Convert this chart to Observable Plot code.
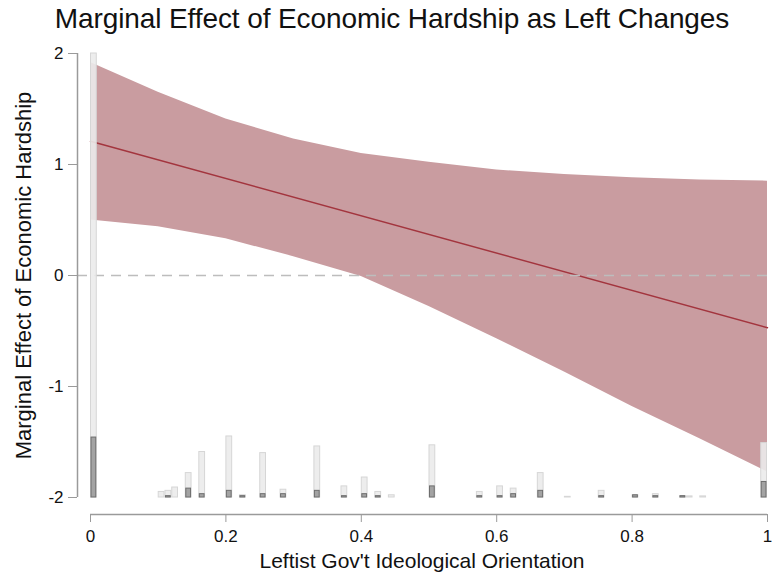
<!DOCTYPE html>
<html><head><meta charset="utf-8">
<script src="https://cdn.jsdelivr.net/npm/d3@7"></script>
<script src="https://cdn.jsdelivr.net/npm/@observablehq/plot@0.6"></script>
<style>
body{margin:0;background:#fff;font-family:"Liberation Sans",Arial,sans-serif;}
#title{height:38px;line-height:37px;font-size:28px;text-align:center;padding-left:12px;color:#111;white-space:nowrap;letter-spacing:-0.1px;}
#chart svg{font-family:"Liberation Sans",Arial,sans-serif;}
</style></head><body>
<div id="title">Marginal Effect of Economic Hardship as Left Changes</div>
<div id="chart"></div>
<script>
// Confidence band grid (leftist orientation) and bounds
const gridX = [0, 0.1, 0.2, 0.3, 0.4, 0.5, 0.6, 0.7, 0.8, 0.9, 1.0];
const upperCI = [1.92, 1.65, 1.41, 1.23, 1.10, 1.02, 0.95, 0.91, 0.88, 0.86, 0.85];
const lowerCI = [0.50, 0.44, 0.33, 0.17, -0.01, -0.28, -0.57, -0.87, -1.18, -1.47, -1.77];
// Marginal effect line
const effectX = [0, 1];
const effectY = [1.21, -0.47];
// Histogram (bin left edges, bar heights in y-units above the -2 baseline)
const histBins = [0, 0.10, 0.11, 0.12, 0.14, 0.16, 0.20, 0.22, 0.25, 0.28, 0.33, 0.37, 0.40, 0.42, 0.44, 0.50, 0.57, 0.60, 0.62, 0.66, 0.70, 0.75, 0.80, 0.83, 0.87, 0.88, 0.90, 0.99];
const lightHeights = [4.0, 0.05, 0.06, 0.09, 0.22, 0.41, 0.55, 0.02, 0.40, 0.07, 0.46, 0.10, 0.18, 0.05, 0.02, 0.47, 0.05, 0.10, 0.08, 0.22, 0.006, 0.06, 0.02, 0.03, 0.01, 0.01, 0.01, 0.49];
const darkHeights  = [0.54, 0, 0.012, 0, 0.08, 0.03, 0.06, 0.012, 0.03, 0.03, 0.06, 0.012, 0.03, 0.012, 0, 0.10, 0.012, 0.012, 0.03, 0.06, 0, 0.012, 0.02, 0.012, 0.012, 0, 0, 0.14];
const binWidth = 0.01;
const baseline = -2;
const xTicks = [0, 0.2, 0.4, 0.6, 0.8, 1];
const yTicks = [-2, -1, 0, 1, 2];
const xLabel = "Leftist Gov't Ideological Orientation";
const yLabel = "Marginal Effect of Economic Hardship";

const band = gridX.map((x, i) => ({x, lo: lowerCI[i], hi: upperCI[i]}));
const effect = effectX.map((x, i) => ({x, y: effectY[i]}));
const hist = histBins.map((x, i) => ({x, light: lightHeights[i], dark: darkHeights[i]}));

const chart = Plot.plot({
  width: 772,
  height: 543,
  marginTop: 15,
  marginBottom: 84,
  marginLeft: 90,
  marginRight: 5,
  style: {fontFamily: "Liberation Sans, Arial, sans-serif", background: "#fff", overflow: "visible"},
  x: {domain: [0, 1]},
  y: {domain: [-2, 2]},
  marks: [
    Plot.areaY(band, {x: "x", y1: "lo", y2: "hi", fill: "#c99ca0"}),
    Plot.line(effect, {x: "x", y: "y", stroke: "#a3353e", strokeWidth: 1.5}),
    Plot.ruleY([0], {stroke: "#bdbdbd", strokeWidth: 1.5, strokeDasharray: "10,7", insetLeft: -13, insetRight: -5}),
    Plot.rectY(hist, {x1: "x", x2: d => d.x + binWidth, y1: baseline, y2: d => baseline + d.light,
      fill: "#ebebeb", fillOpacity: 0.9, stroke: "#d6d6d6", strokeWidth: 1, insetLeft: 0.5, insetRight: 0.5}),
    Plot.rectY(hist.filter(d => d.dark > 0), {x1: "x", x2: d => d.x + binWidth, y1: baseline, y2: d => baseline + d.dark,
      fill: "#a3a3a3", stroke: "#6e6e6e", strokeWidth: 1, insetLeft: 1, insetRight: 1}),
    Plot.ruleX([0], {y1: -2, y2: 2, dx: -13, stroke: "#9a9a9a", strokeWidth: 1.5}),
    Plot.ruleY([baseline], {x1: 0, x2: 1, dy: 17, stroke: "#9a9a9a", strokeWidth: 1.5}),
    Plot.axisY({ticks: yTicks, tickFormat: d => String(d), dx: -13, tickSize: 9, tickPadding: 5,
      fontSize: 17, label: null, stroke: "#9a9a9a", fill: "#111"}),
    Plot.axisX({ticks: xTicks, tickFormat: d => String(d), dy: 17, tickSize: 8, tickPadding: 7,
      fontSize: 17, label: null, stroke: "#9a9a9a", fill: "#111"}),
    Plot.text([yLabel], {frameAnchor: "left", textAnchor: "middle", rotate: -90, dx: -67, fontSize: 22, fill: "#111"}),
    Plot.text([xLabel], {frameAnchor: "bottom", textAnchor: "middle", dy: 70, dx: -7, fontSize: 21, fill: "#111"})
  ]
});
document.getElementById("chart").appendChild(chart);
</script>
</body></html>
